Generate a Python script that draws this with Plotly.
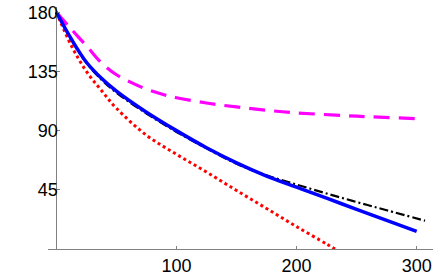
import plotly.graph_objects as go

# Data
blue_x = [0, 12.5, 25, 37.5, 50, 75, 100, 125, 150, 175, 200, 225, 250, 275, 300]
blue_y = [180, 159.5, 142, 129.8, 120, 104, 90, 77, 65.5, 55.5, 47, 38.6, 30.2, 21.8, 13.4]

black_x = [0, 12.5, 25, 37.5, 50, 75, 100, 125, 150, 175, 200, 225, 250, 275, 307]
black_y = [180, 159, 141.5, 128.8, 118.8, 103, 89, 76.5, 64.8, 56, 49, 42.2, 35.7, 29.5, 21.5]

red_x = [0, 12.5, 25, 37.5, 50, 75, 100, 125, 150, 175, 200, 225, 232]
red_y = [180, 154.5, 135, 120.5, 107, 86.5, 72, 58.5, 44.5, 30.8, 17, 3.8, 0]

mag_x = [0, 12.5, 25, 37.5, 50, 62.5, 75, 87.5, 100, 125, 150, 175, 200, 250, 300]
mag_y = [180, 167, 154.5, 141.5, 132.5, 126.5, 121.5, 117.8, 115, 111, 108, 105.5, 103.5, 101, 99.1]

x_ticks = [100, 200, 300]
y_ticks = [45, 90, 135, 180]

x_range = [-7, 313.6]
y_range = [0, 184]

fig = go.Figure()
fig.add_trace(go.Scatter(x=red_x, y=red_y, mode="lines",
                         line=dict(color="#FF0000", width=3, dash="3px,3px", shape="spline")))
fig.add_trace(go.Scatter(x=mag_x, y=mag_y, mode="lines",
                         line=dict(color="#FF00FF", width=3.2, dash="16px,9px", shape="spline")))
fig.add_trace(go.Scatter(x=black_x, y=black_y, mode="lines",
                         line=dict(color="black", width=2.2, dash="9px,3px,2px,3px", shape="spline")))
fig.add_trace(go.Scatter(x=blue_x, y=blue_y, mode="lines",
                         line=dict(color="#0000FF", width=3.5, shape="spline")))

font = dict(family="Liberation Sans, Arial, sans-serif", size=18, color="black")

fig.update_layout(
    width=448, height=277,
    margin=dict(l=48, r=15, t=7, b=28),
    paper_bgcolor="white", plot_bgcolor="white",
    showlegend=False,
    font=font,
    xaxis=dict(range=x_range, tickvals=x_ticks, showgrid=False, zeroline=False,
               showline=True, linecolor="#808080", linewidth=1, automargin=False,
               ticks="inside", ticklen=3, tickcolor="#808080", tickfont=font),
    yaxis=dict(range=y_range, tickvals=y_ticks, showgrid=False, zeroline=False,
               anchor="free", position=(0 - x_range[0]) / (x_range[1] - x_range[0]),
               showline=True, linecolor="#808080", linewidth=1, automargin=False,
               ticks="inside", ticklen=3, tickcolor="#808080", tickfont=font,
               ticklabelstandoff=-5),
)

fig.write_html("out.html", config={"displayModeBar": False},
               post_script="document.body.style.margin='0';document.body.style.overflow='hidden';")
